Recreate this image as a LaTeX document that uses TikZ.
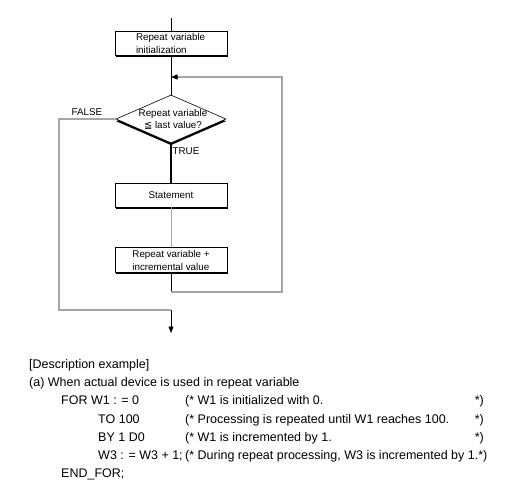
\documentclass[tikz,border=0pt]{standalone}
\usepackage{fontspec}
\setmainfont{Liberation Sans}
\newfontfamily\dvsans{DejaVu Sans}
\usepackage{tikz}
\usetikzlibrary{shapes.geometric,shadows,arrows.meta}
\tikzstyle{Box}=[rectangle, minimum width=112, minimum height=24, inner sep=0.5, align=left, draw=black, line width=0.6, fill=white, font=\fontsize{9.8}{13}\selectfont, drop shadow={shadow xshift=1.4pt, shadow yshift=-1.8pt, fill=black, opacity=1}]
\tikzstyle{Cond}=[diamond, minimum width=110, minimum height=48, inner sep=0, draw=black, line width=0.6, fill=white, drop shadow={shadow xshift=0pt, shadow yshift=-2.2pt, fill=black, opacity=1}]
\tikzstyle{Label}=[inner sep=0, font=\fontsize{9.8}{12}\selectfont]
\tikzstyle{Flow}=[draw=black, line width=0.7]
\tikzstyle{Loop}=[draw=gray!70, line width=1.1]
\tikzstyle{Tip}=[-{Triangle[length=6.5pt,width=5pt,color=black]}]
\tikzstyle{Code}=[anchor=base west, inner sep=0, font=\fontsize{12.5}{18}\selectfont]

\begin{document}
\begin{tikzpicture}[x=1pt, y=-1pt]
    \useasboundingbox (0,0) rectangle (505,503);
    % flow chart
    \path
    (171,43) node[Box, text width=70] (init) {Repeat variable\\initialization}
    (171,119) node[Cond] (cond) {}
    (173,119) node[Label, align=center] (condtxt) {Repeat variable\\{\dvsans ≦} last value?}
    (171,195) node[Box] (stmt) {Statement}
    (171,260) node[Box, minimum height=25] (incr) {Repeat variable +\\incremental value}
    (87,112) node[Label] (false) {FALSE}
    (186,151) node[Label] (true) {TRUE};

    \coordinate (top) at (171,18);
    \coordinate (merge) at (171,77);
    \coordinate (looptr) at (282,77);
    \coordinate (loopbr) at (282,292);
    \coordinate (loopbl) at (171,292);
    \coordinate (falsec) at (59,119);
    \coordinate (falsebl) at (59,310);
    \coordinate (exitc) at (171,310);
    \coordinate (exit) at (171,333);

    \draw[Flow] (top) -- (init.north);
    \draw[Flow] (init.south) -- (cond.north);
    \draw[Flow, line width=2] (cond.south) -- (stmt.north);
    \draw[draw=gray!70, line width=0.8] (stmt.south) -- (incr.north);
    \draw[Flow] (incr.south) -- (loopbl);
    \draw[Loop] (loopbl) -- (loopbr) -- (looptr) -- ([xshift=6.5]merge);
    \draw[Flow, Tip] ([xshift=7]merge) -- (merge);
    \draw[Loop] (cond.west) -- (falsec) -- (falsebl) -- (exitc);
    \draw[Flow, Tip] (exitc) -- (exit);

    % description example
    \path
    (29,368) node[Code] (title) {[Description example]}
    (29,386) node[Code] (case) {(a) When actual device is used in repeat variable}
    (61,404) node[Code] (for) {FOR W1 : = 0}
    (98,423) node[Code] (to) {TO 100}
    (98,441) node[Code] (by) {BY 1 D0}
    (98,459) node[Code] (calc) {W3 : = W3 + 1;}
    (61,477) node[Code] (endfor) {END\_FOR;};
    \path
    (185,404) node[Code] (forc) {(* W1 is initialized with 0.}
    (185,423) node[Code] (toc) {(* Processing is repeated until W1 reaches 100.}
    (185,441) node[Code] (byc) {(* W1 is incremented by 1.}
    (185,459) node[Code] (calcc) {(* During repeat processing, W3 is incremented by 1.*)};
    \foreach \n/\y in {forend/404, toend/423, byend/441}
        \path (484,\y) node[Code, anchor=base east] (\n) {*)};
\end{tikzpicture}
\end{document}
